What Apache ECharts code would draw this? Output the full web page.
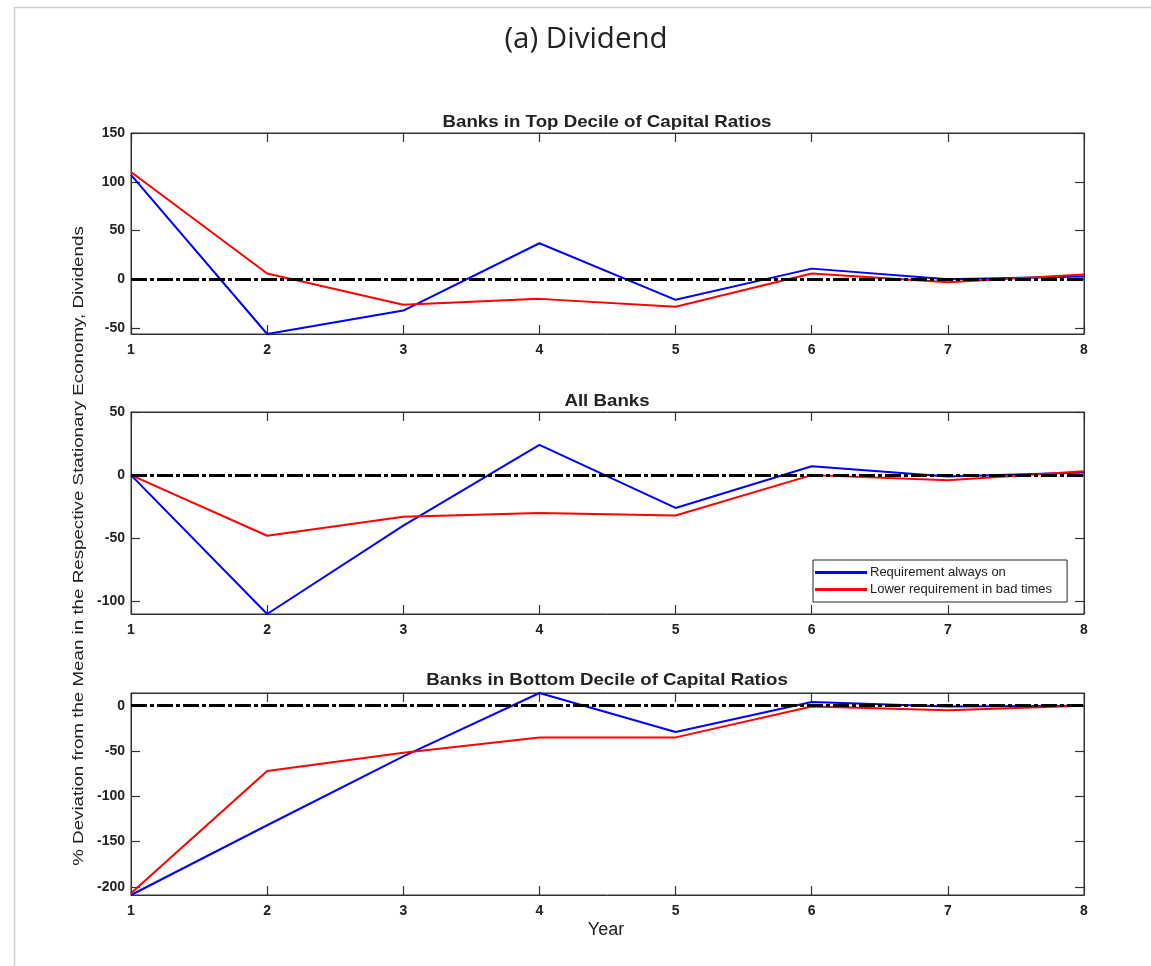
<!DOCTYPE html>
<html>
<head>
<meta charset="utf-8">
<script src="https://cdn.jsdelivr.net/npm/echarts@6/dist/echarts.min.js"></script>
<style>
html,body{margin:0;padding:0;background:#fff;}
#chart{width:1151px;height:966px;}
</style>
</head>
<body>
<div id="chart"></div>
<script>
// ---- data ----
const years = [1, 2, 3, 4, 5, 6, 7, 8];
const seriesNames = ['Requirement always on', 'Lower requirement in bad times'];
const panelTitles = ['Banks in Top Decile of Capital Ratios', 'All Banks', 'Banks in Bottom Decile of Capital Ratios'];

const topAlwaysOn = [107, -56, -32, 37, -21, 11, 0, 3];
const topLowerBad = [110, 6, -26, -20, -28, 6, -3, 5];
const allAlwaysOn = [0, -110, -40, 24, -26, 7, -1, 2];
const allLowerBad = [0, -48, -33, -30, -32, 0, -4, 3];
const botAlwaysOn = [-209, -132, -56, 14, -29, 4, -1, 0];
const botLowerBad = [-207, -72, -52, -35, -35, -1, -5, 0];

const topTicks = [-50, 0, 50, 100, 150];
const allTicks = [-100, -50, 0, 50];
const botTicks = [-200, -150, -100, -50, 0];
const topRange = [-56, 150];
const allRange = [-110, 50];
const botRange = [-209, 14];

// ---- layout ----
const FONT = '"Liberation Sans", Arial, sans-serif';
const grids = [
  { left: 131, right: 67, top: 133, height: 201 },
  { left: 131, right: 67, top: 412, height: 202 },
  { left: 131, right: 67, top: 693, height: 202 }
];
const panels = [
  { a: topAlwaysOn, b: topLowerBad, ticks: topTicks, range: topRange },
  { a: allAlwaysOn, b: allLowerBad, ticks: allTicks, range: allRange },
  { a: botAlwaysOn, b: botLowerBad, ticks: botTicks, range: botRange }
];
const pair = (vals) => years.map((y, i) => [y, vals[i]]);

const xAxis = [], yAxis = [], series = [];
const TICK = 9;
const axisColor = '#333';
const tickStyle = { color: axisColor, width: 1.2 };
const lblStyle = { color: '#222', fontFamily: FONT, fontSize: 14, fontWeight: 'bold' };
panels.forEach((p, gi) => {
  xAxis.push({
    type: 'value', gridIndex: gi, min: 1, max: 8, interval: 1, position: 'bottom',
    axisLine: { show: true, onZero: false, lineStyle: { color: axisColor, width: 1 } },
    axisTick: { show: true, inside: true, length: TICK, lineStyle: tickStyle },
    axisLabel: Object.assign({ show: true, margin: 9 }, lblStyle),
    splitLine: { show: false }
  });
  xAxis.push({
    type: 'value', gridIndex: gi, min: 1, max: 8, interval: 1, position: 'top',
    axisLine: { show: true, onZero: false, lineStyle: { color: axisColor, width: 1 } },
    axisTick: { show: true, inside: true, length: TICK, lineStyle: tickStyle },
    axisLabel: { show: false }, splitLine: { show: false }
  });
  yAxis.push({
    type: 'value', gridIndex: gi, min: p.range[0], max: p.range[1], position: 'left',
    axisLine: { show: true, onZero: false, lineStyle: { color: axisColor, width: 1 } },
    axisTick: { show: true, inside: true, length: TICK, customValues: p.ticks, lineStyle: tickStyle },
    axisLabel: Object.assign({ show: true, customValues: p.ticks, margin: 6 }, lblStyle),
    splitLine: { show: false }
  });
  yAxis.push({
    type: 'value', gridIndex: gi, min: p.range[0], max: p.range[1], position: 'right',
    axisLine: { show: true, onZero: false, lineStyle: { color: axisColor, width: 1 } },
    axisTick: { show: true, inside: true, length: TICK, customValues: p.ticks, lineStyle: tickStyle },
    axisLabel: { show: false }, splitLine: { show: false }
  });
  const xi = gi * 2, yi = gi * 2;
  series.push({
    name: seriesNames[0], type: 'line', xAxisIndex: xi, yAxisIndex: yi,
    data: pair(p.a), showSymbol: false, symbol: 'none', clip: true, z: 3,
    lineStyle: { color: '#0000ff', width: 2 }, itemStyle: { color: '#0000ff' },
    markLine: {
      silent: true, symbol: ['none', 'none'], label: { show: false }, animation: false,
      lineStyle: { color: '#000', width: 3, type: [16, 3, 4, 3] },
      data: [{ yAxis: 0 }]
    }
  });
  series.push({
    name: seriesNames[1], type: 'line', xAxisIndex: xi, yAxisIndex: yi,
    data: pair(p.b), showSymbol: false, symbol: 'none', clip: true, z: 3,
    lineStyle: { color: '#ff0000', width: 2 }, itemStyle: { color: '#ff0000' }
  });
});

const titleCenters = [122, 401, 680];
const graphic = [
  { type: 'polyline', silent: true, shape: { points: [[14.5, 966], [14.5, 7.5], [1151, 7.5]] },
    style: { stroke: '#cfcfcf', lineWidth: 1.5, fill: null } },
  { type: 'text', silent: true, x: 586, y: 40, style: {
    text: '(a) Dividend', fontFamily: '"Open Sans", sans-serif', fontSize: 29.5, fill: '#222',
    align: 'center', verticalAlign: 'middle' } },
  { type: 'text', silent: true, x: 79, y: 546, rotation: Math.PI / 2, scaleX: 1.25, style: {
    text: '% Deviation from the Mean in the Respective Stationary Economy, Dividends',
    fontFamily: FONT, fontSize: 15, fill: '#222', align: 'center', verticalAlign: 'middle' } },
  { type: 'text', silent: true, x: 606, y: 930, style: {
    text: 'Year', fontFamily: FONT, fontSize: 18, fill: '#222', align: 'center', verticalAlign: 'middle' } }
];
panelTitles.forEach((t, i) => {
  graphic.push({ type: 'text', silent: true, x: 607, y: titleCenters[i], scaleX: 1.1, style: {
    text: t, fontFamily: FONT, fontSize: 17, fontWeight: 'bold', fill: '#222',
    align: 'center', verticalAlign: 'middle' } });
});

const chart = echarts.init(document.getElementById('chart'), null, { renderer: 'canvas' });
chart.setOption({
  animation: false,
  backgroundColor: '#fff',
  grid: grids.map(g => Object.assign({ show: true, borderColor: axisColor, borderWidth: 1, backgroundColor: 'transparent', containLabel: false }, g)),
  xAxis, yAxis, series,
  legend: {
    data: seriesNames, orient: 'vertical', left: 813, top: 560,
    icon: 'rect', itemWidth: 52, itemHeight: 3, itemGap: 4,
    padding: [6, 15, 6, 2], borderColor: '#222', borderWidth: 1, backgroundColor: '#fff',
    textStyle: { fontFamily: FONT, fontSize: 13, color: '#222', padding: [0, 0, 0, -2] },
    selectedMode: false
  },
  graphic
});
</script>
</body>
</html>
